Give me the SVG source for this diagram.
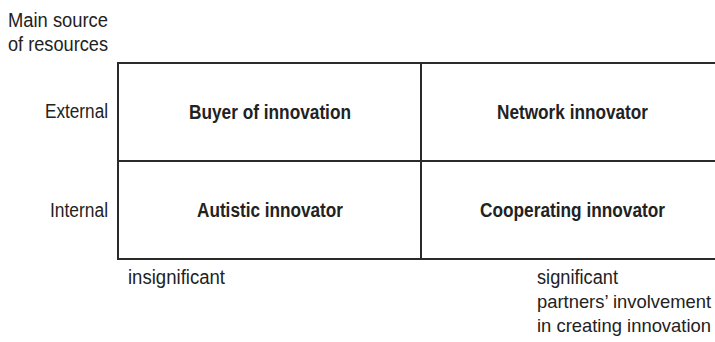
<svg xmlns="http://www.w3.org/2000/svg" width="715" height="342" viewBox="0 0 715 342">
  <style>
    .lbl { font-family: "Liberation Sans", Arial, sans-serif; font-size: 19.5px; fill: #222; }
    .lbl.long { font-size: 18.5px; }
    .cell { font-family: "Liberation Sans", Arial, sans-serif; font-size: 19.5px; font-weight: bold; fill: #222; text-anchor: middle; }
    .grid { stroke: #2a2a2a; stroke-width: 2; fill: none; }
    .end { text-anchor: end; }
  </style>
  <rect width="715" height="342" fill="#ffffff"/>

  <!-- axis titles (condensed to the printed widths) -->
  <g id="axis-y">
    <text class="lbl" x="8" y="27" textLength="100" lengthAdjust="spacingAndGlyphs">Main source</text>
    <text class="lbl" x="8" y="51" textLength="100" lengthAdjust="spacingAndGlyphs">of resources</text>
    <text class="lbl end" x="108" y="118" textLength="63" lengthAdjust="spacingAndGlyphs">External</text>
    <text class="lbl end" x="108" y="217" textLength="58" lengthAdjust="spacingAndGlyphs">Internal</text>
  </g>
  <g id="axis-x">
    <text class="lbl" x="128" y="284" textLength="97" lengthAdjust="spacingAndGlyphs">insignificant</text>
    <text class="lbl" x="537" y="284" textLength="81" lengthAdjust="spacingAndGlyphs">significant</text>
    <text class="lbl long" x="537" y="308" textLength="174" lengthAdjust="spacingAndGlyphs">partners’ involvement</text>
    <text class="lbl long" x="537" y="332" textLength="174" lengthAdjust="spacingAndGlyphs">in creating innovation</text>
  </g>

  <!-- matrix lines -->
  <g id="connectors">
    <path class="grid" d="M118,63 H716 M118,161 H716 M118,259 H716 M118,62 V260 M421,63 V259"/>
  </g>

  <g id="buyer">
    <text class="cell" x="270" y="119" textLength="162" lengthAdjust="spacingAndGlyphs">Buyer of innovation</text>
  </g>
  <g id="network">
    <text class="cell" x="572.5" y="119" textLength="151" lengthAdjust="spacingAndGlyphs">Network innovator</text>
  </g>
  <g id="autistic">
    <text class="cell" x="270" y="217" textLength="146" lengthAdjust="spacingAndGlyphs">Autistic innovator</text>
  </g>
  <g id="cooperating">
    <text class="cell" x="572.5" y="217" textLength="185" lengthAdjust="spacingAndGlyphs">Cooperating innovator</text>
  </g>
</svg>
